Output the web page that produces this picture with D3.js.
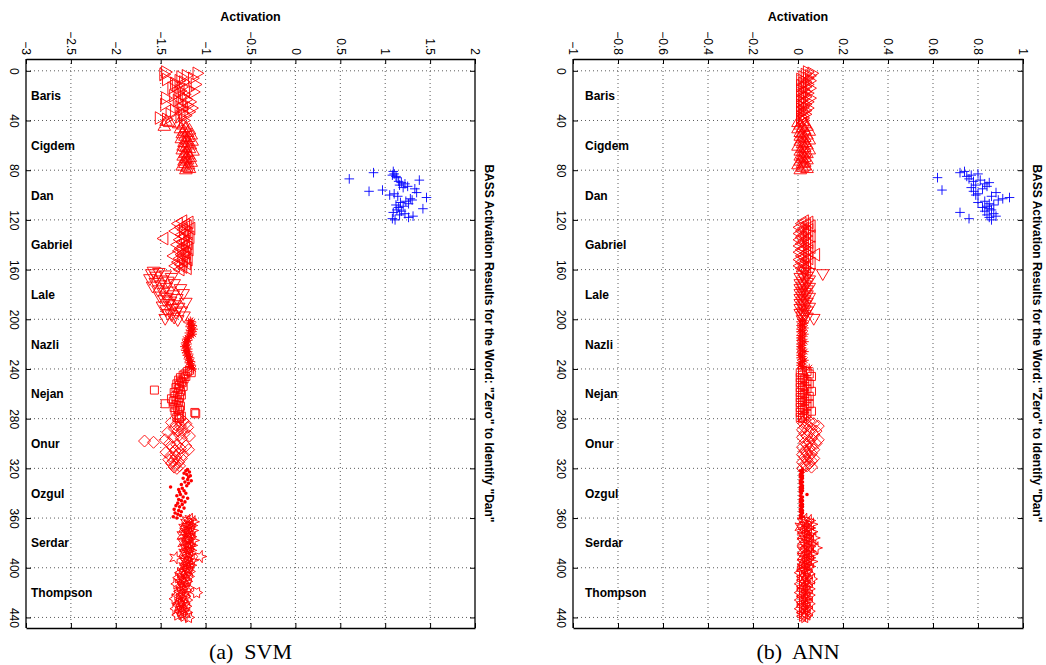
<!DOCTYPE html>
<html>
<head>
<meta charset="utf-8">
<script src="https://cdn.jsdelivr.net/npm/d3@7"></script>
<style>
  body { margin: 0; background: #fff; }
  svg { display: block; }
</style>
</head>
<body>
<svg id="fig" width="1046" height="665"></svg>
<script>
// ---------------------------------------------------------------
// Speakers (40 utterances each) and axis ticks
// ---------------------------------------------------------------
const speakers = ["Baris", "Cigdem", "Dan", "Gabriel", "Lale", "Nazli",
                  "Nejan", "Onur", "Ozgul", "Serdar", "Thompson"];
const sampleTicks = [0, 40, 80, 120, 160, 200, 240, 280, 320, 360, 400, 440];
const svmTicks = [-3, -2.5, -2, -1.5, -1, -0.5, 0, 0.5, 1, 1.5, 2];
const annTicks = [-1, -0.8, -0.6, -0.4, -0.2, 0, 0.2, 0.4, 0.6, 0.8, 1];

// ---------------------------------------------------------------
// SVM activations per speaker
// ---------------------------------------------------------------
const svmBaris = [-1.45, -1.10, -1.47, -1.22, -1.28, -1.15, -1.44, -1.30, -1.25, -1.35,
                  -1.12, -1.33, -1.27, -1.38, -1.20, -1.29, -1.14, -1.31, -1.24, -1.36,
                  -1.26, -1.45, -1.22, -1.32, -1.18, -1.28, -1.46, -1.21, -1.30, -1.16,
                  -1.27, -1.35, -1.19, -1.26, -1.40, -1.23, -1.29, -1.52, -1.44, -1.25];
const svmCigdem = [-1.44, -1.40, -1.30, -1.25, -1.46, -1.22, -1.28, -1.18, -1.24, -1.20,
                   -1.26, -1.16, -1.23, -1.19, -1.27, -1.21, -1.15, -1.24, -1.20, -1.17,
                   -1.25, -1.22, -1.18, -1.26, -1.14, -1.21, -1.23, -1.19, -1.25, -1.17,
                   -1.22, -1.20, -1.24, -1.16, -1.23, -1.19, -1.26, -1.21, -1.18, -1.22];
const svmDan = [1.09, 0.87, 1.10, 1.08, 1.12, 1.13, 0.60, 1.38, 1.15, 1.18,
                1.22, 1.16, 1.25, 1.20, 1.33, 0.97, 0.82, 1.35, 1.10, 1.05,
                1.14, 1.46, 1.28, 1.30, 1.23, 1.17, 1.26, 1.12, 1.20, 1.15,
                1.42, 1.13, 1.18, 1.09, 1.22, 1.16, 1.31, 1.26, 1.08, 1.11];
const svmGabriel = [-1.25, -1.18, -1.30, -1.22, -1.20, -1.27, -1.16, -1.24, -1.33, -1.21,
                    -1.19, -1.26, -1.23, -1.17, -1.46, -1.28, -1.22, -1.25, -1.19, -1.31,
                    -1.24, -1.20, -1.27, -1.18, -1.29, -1.23, -1.21, -1.26, -1.35, -1.22,
                    -1.28, -1.19, -1.24, -1.30, -1.21, -1.27, -1.33, -1.25, -1.20, -1.28];
const svmLale = [-1.58, -1.52, -1.60, -1.45, -1.55, -1.38, -1.62, -1.48, -1.42, -1.56,
                 -1.35, -1.50, -1.59, -1.44, -1.28, -1.53, -1.40, -1.47, -1.25, -1.36,
                 -1.51, -1.43, -1.32, -1.46, -1.39, -1.22, -1.41, -1.34, -1.48, -1.30,
                 -1.37, -1.44, -1.27, -1.33, -1.42, -1.38, -1.24, -1.35, -1.45, -1.31];
const svmNazli = [-1.17, -1.15, -1.19, -1.16, -1.14, -1.18, -1.16, -1.13, -1.17, -1.15,
                  -1.19, -1.14, -1.16, -1.18, -1.20, -1.22, -1.19, -1.21, -1.23, -1.20,
                  -1.22, -1.24, -1.21, -1.19, -1.23, -1.20, -1.22, -1.18, -1.21, -1.19,
                  -1.17, -1.20, -1.18, -1.16, -1.19, -1.17, -1.15, -1.18, -1.16, -1.14];
const svmNejan = [-1.18, -1.20, -1.16, -1.23, -1.25, -1.22, -1.28, -1.24, -1.30, -1.27,
                  -1.26, -1.32, -1.29, -1.25, -1.33, -1.30, -1.57, -1.28, -1.35, -1.31,
                  -1.27, -1.34, -1.29, -1.38, -1.32, -1.36, -1.30, -1.45, -1.33, -1.28,
                  -1.35, -1.31, -1.29, -1.34, -1.12, -1.11, -1.30, -1.27, -1.32, -1.29];
const svmOnur = [-1.30, -1.25, -1.38, -1.22, -1.33, -1.28, -1.20, -1.35, -1.26, -1.31,
                 -1.42, -1.24, -1.29, -1.18, -1.36, -1.27, -1.45, -1.68, -1.58, -1.40,
                 -1.32, -1.22, -1.37, -1.28, -1.19, -1.34, -1.44, -1.30, -1.25, -1.39,
                 -1.33, -1.27, -1.41, -1.36, -1.30, -1.38, -1.34, -1.29, -1.35, -1.32];
const svmOzgul = [-1.20, -1.22, -1.18, -1.24, -1.21, -1.17, -1.19, -1.25, -1.20, -1.16,
                  -1.23, -1.19, -1.27, -1.21, -1.39, -1.26, -1.30, -1.24, -1.29, -1.22,
                  -1.28, -1.32, -1.25, -1.20, -1.30, -1.27, -1.23, -1.31, -1.26, -1.33,
                  -1.29, -1.24, -1.35, -1.30, -1.27, -1.34, -1.31, -1.28, -1.36, -1.32];
const svmSerdar = [-1.17, -1.20, -1.14, -1.22, -1.18, -1.16, -1.21, -1.24, -1.19, -1.15,
                   -1.23, -1.18, -1.20, -1.26, -1.17, -1.21, -1.19, -1.14, -1.22, -1.25,
                   -1.18, -1.16, -1.20, -1.23, -1.19, -1.17, -1.21, -1.24, -1.18, -1.22,
                   -1.06, -1.34, -1.20, -1.15, -1.23, -1.19, -1.21, -1.17, -1.24, -1.20];
const svmThompson = [-1.20, -1.24, -1.18, -1.28, -1.22, -1.26, -1.19, -1.30, -1.23, -1.27,
                     -1.21, -1.25, -1.32, -1.24, -1.28, -1.20, -1.26, -1.22, -1.29, -1.10,
                     -1.25, -1.31, -1.23, -1.27, -1.34, -1.21, -1.26, -1.29, -1.24, -1.30,
                     -1.22, -1.27, -1.33, -1.25, -1.28, -1.21, -1.26, -1.31, -1.24, -1.19];

// ---------------------------------------------------------------
// ANN activations per speaker
// ---------------------------------------------------------------
const annBaris = [0.04, 0.06, 0.03, 0.05, 0.02, 0.04, 0.01, 0.05, 0.03, 0.02,
                  0.04, 0.01, 0.03, 0.05, 0.02, 0.01, 0.03, 0.04, 0.02, 0.01,
                  0.03, 0.05, 0.02, 0.01, 0.04, 0.02, 0.03, 0.01, 0.02, 0.04,
                  0.01, 0.03, 0.02, 0.01, 0.03, 0.02, 0.01, 0.02, 0.01, 0.02];
const annCigdem = [0.02, 0.00, 0.03, 0.01, 0.04, 0.02, 0.00, 0.03, 0.05, 0.01,
                   0.02, 0.04, 0.01, 0.03, 0.02, 0.05, 0.01, 0.03, 0.02, 0.04,
                   0.00, 0.03, 0.02, 0.05, 0.01, 0.03, 0.04, 0.02, 0.01, 0.03,
                   0.02, 0.04, 0.01, 0.03, 0.02, 0.00, 0.03, 0.02, 0.04, 0.01];
const annDan = [0.74, 0.72, 0.80, 0.77, 0.75, 0.62, 0.76, 0.81, 0.78, 0.85,
                0.83, 0.79, 0.84, 0.77, 0.82, 0.64, 0.78, 0.88, 0.80, 0.79,
                0.86, 0.94, 0.91, 0.89, 0.83, 0.80, 0.85, 0.87, 0.84, 0.82,
                0.85, 0.86, 0.83, 0.72, 0.87, 0.84, 0.88, 0.85, 0.76, 0.86];
const annGabriel = [0.03, 0.05, 0.02, 0.04, 0.06, 0.01, 0.03, 0.05, 0.02, 0.04,
                    0.01, 0.03, 0.06, 0.02, 0.04, 0.01, 0.03, 0.05, 0.02, 0.04,
                    0.01, 0.06, 0.03, 0.02, 0.05, 0.01, 0.04, 0.08, 0.02, 0.03,
                    0.05, 0.01, 0.04, 0.02, 0.06, 0.03, 0.01, 0.04, 0.02, 0.03];
const annLale = [0.03, 0.05, 0.11, 0.02, 0.04, 0.01, 0.03, 0.05, 0.02, 0.04,
                 0.01, 0.03, 0.02, 0.05, 0.01, 0.04, 0.02, 0.03, 0.01, 0.04,
                 0.02, 0.05, 0.01, 0.03, 0.02, 0.04, 0.01, 0.03, 0.02, 0.05,
                 0.01, 0.03, 0.04, 0.02, 0.01, 0.03, 0.02, 0.04, 0.07, 0.02];
const annNazli = [0.02, 0.01, 0.03, 0.02, 0.01, 0.02, 0.03, 0.01, 0.02, 0.01,
                  0.02, 0.03, 0.01, 0.02, 0.01, 0.02, 0.01, 0.03, 0.02, 0.01,
                  0.02, 0.01, 0.02, 0.01, 0.02, 0.03, 0.01, 0.02, 0.01, 0.02,
                  0.01, 0.02, 0.03, 0.02, 0.01, 0.02, 0.01, 0.02, 0.05, 0.02];
const annNejan = [0.02, 0.04, 0.01, 0.05, 0.02, 0.06, 0.01, 0.03, 0.02, 0.04,
                  0.01, 0.05, 0.02, 0.03, 0.01, 0.04, 0.02, 0.06, 0.01, 0.03,
                  0.02, 0.05, 0.01, 0.04, 0.02, 0.03, 0.01, 0.05, 0.02, 0.04,
                  0.01, 0.03, 0.02, 0.06, 0.01, 0.04, 0.02, 0.03, 0.01, 0.02];
const annOnur = [0.03, 0.05, 0.02, 0.07, 0.04, 0.09, 0.03, 0.06, 0.02, 0.08,
                 0.05, 0.03, 0.07, 0.04, 0.02, 0.06, 0.09, 0.05, 0.03, 0.08,
                 0.04, 0.06, 0.02, 0.05, 0.07, 0.03, 0.04, 0.06, 0.02, 0.05,
                 0.03, 0.07, 0.04, 0.06, 0.02, 0.05, 0.03, 0.04, 0.06, 0.02];
const annOzgul = [0.02, 0.01, 0.02, 0.015, 0.01, 0.02, 0.01, 0.02, 0.015, 0.01,
                  0.02, 0.01, 0.015, 0.02, 0.01, 0.02, 0.01, 0.02, 0.01, 0.015,
                  0.04, 0.01, 0.02, 0.015, 0.01, 0.02, 0.01, 0.015, 0.02, 0.01,
                  0.02, 0.015, 0.01, 0.02, 0.01, 0.02, 0.015, 0.01, 0.02, 0.01];
const annSerdar = [0.03, 0.05, 0.02, 0.04, 0.06, 0.03, 0.01, 0.05, 0.04, 0.02,
                   0.06, 0.03, 0.05, 0.02, 0.04, 0.07, 0.03, 0.05, 0.02, 0.04,
                   0.06, 0.03, 0.05, 0.08, 0.04, 0.02, 0.05, 0.03, 0.06, 0.04,
                   0.02, 0.05, 0.03, 0.04, 0.06, 0.02, 0.04, 0.03, 0.05, 0.02];
const annThompson = [0.03, 0.02, 0.04, 0.01, 0.05, 0.03, 0.02, 0.04, 0.06, 0.02,
                     0.03, 0.05, 0.01, 0.04, 0.02, 0.03, 0.05, 0.02, 0.04, 0.01,
                     0.03, 0.05, 0.02, 0.04, 0.03, 0.01, 0.04, 0.02, 0.05, 0.03,
                     0.02, 0.04, 0.01, 0.03, 0.05, 0.02, 0.03, 0.04, 0.02, 0.03];

const svmSeries = [svmBaris, svmCigdem, svmDan, svmGabriel, svmLale, svmNazli,
                   svmNejan, svmOnur, svmOzgul, svmSerdar, svmThompson];
const annSeries = [annBaris, annCigdem, annDan, annGabriel, annLale, annNazli,
                   annNejan, annOnur, annOzgul, annSerdar, annThompson];

// ---------------------------------------------------------------
// Marker shapes, one per speaker
// ---------------------------------------------------------------
const markerKind = ["triRight", "triUp", "plus", "triLeft", "triDown", "asterisk",
                    "square", "diamond", "dot", "pentagram", "hexagram"];
const target = "Dan";

function starPath(n, outer, inner) {
  const pts = [];
  for (let i = 0; i < 2 * n; i++) {
    const a = Math.PI * i / n;
    const r = i % 2 === 0 ? outer : inner;
    pts.push([r * Math.cos(a), r * Math.sin(a)]);
  }
  return "M" + pts.map(p => p[0].toFixed(2) + "," + p[1].toFixed(2)).join("L") + "Z";
}

function markerPath(kind) {
  switch (kind) {
    case "triRight": return "M-3.6,-6.3L7.2,0L-3.6,6.3Z";
    case "triLeft":  return "M3.6,-6.3L-7.2,0L3.6,6.3Z";
    case "triUp":    return "M-6.3,3.6L0,-7.2L6.3,3.6Z";
    case "triDown":  return "M-6.3,-3.6L0,7.2L6.3,-3.6Z";
    case "square":   return "M-4,-4H4V4H-4Z";
    case "diamond":  return "M0,-6L6,0L0,6L-6,0Z";
    case "plus":     return "M-4.8,0H4.8M0,-4.8V4.8";
    case "asterisk": return "M-4,0H4M0,-4V4M-2.9,-2.9L2.9,2.9M-2.9,2.9L2.9,-2.9";
    case "dot":      return d3.symbol(d3.symbolCircle, 10)();
    case "pentagram": return starPath(5, 6.5, 2.6);
    case "hexagram":  return starPath(6, 6, 3.4);
  }
}

// ---------------------------------------------------------------
// Layout shared by both panels
// ---------------------------------------------------------------
const svg = d3.select("#fig");
const plotTop = 59, plotBottom = 628;
const y = d3.scaleLinear().domain([-9.5, 448.5]).range([plotTop, plotBottom]);
const sansFont = "'Liberation Sans', Arial, Helvetica, sans-serif";
const serifFont = "'Liberation Serif', 'Times New Roman', serif";
const fmt = d3.format("");

function drawPanel(opts) {
  const { left, right, domain, ticks, series, caption, labelOffset } = opts;
  const x = d3.scaleLinear().domain(domain).range([left, right]);
  const g = svg.append("g");

  // dotted grid
  const grid = g.append("g")
    .attr("stroke", "#333").attr("stroke-width", 0.8)
    .attr("stroke-dasharray", "1,3");
  grid.selectAll("line.v").data(ticks.slice(1, -1)).join("line")
    .attr("class", "v")
    .attr("x1", d => x(d)).attr("x2", d => x(d))
    .attr("y1", plotTop).attr("y2", plotBottom);
  grid.selectAll("line.h").data(sampleTicks).join("line")
    .attr("class", "h")
    .attr("x1", left).attr("x2", right)
    .attr("y1", d => y(d)).attr("y2", d => y(d));

  // speaker markers
  series.forEach((vals, k) => {
    const kind = markerKind[k];
    const colour = speakers[k] === target ? "#0000ff" : "#ff0000";
    const path = markerPath(kind);
    g.append("g").selectAll("path").data(vals).join("path")
      .attr("transform", (v, j) => `translate(${x(v)},${y(k * 40 + j + 1)})`)
      .attr("d", path)
      .attr("fill", kind === "dot" ? colour : "none")
      .attr("stroke", kind === "dot" ? "none" : colour)
      .attr("stroke-width", 0.9);
  });

  // speaker names
  g.append("g").selectAll("text").data(speakers).join("text")
    .attr("x", left + labelOffset)
    .attr("y", (d, k) => y(k * 40 + 20) + 4.5)
    .attr("font-family", sansFont).attr("font-size", 12).attr("font-weight", "bold")
    .text(d => d);

  // axes on all four sides with inward ticks
  const styleAxis = sel => {
    sel.selectAll(".domain").attr("stroke", "#000").attr("stroke-width", 1.3);
    sel.selectAll(".tick line").attr("stroke", "#000").attr("stroke-width", 1);
    sel.selectAll("text").attr("fill", "#000")
      .attr("font-family", sansFont).attr("font-size", 12);
  };

  const top = g.append("g").attr("transform", `translate(0,${plotTop})`)
    .call(d3.axisTop(x).tickValues(ticks).tickSize(-5).tickSizeOuter(0).tickFormat(fmt))
    .call(styleAxis);
  top.selectAll("text")
    .attr("x", 0).attr("y", 0).attr("dy", 0)
    .attr("text-anchor", "end")
    .attr("transform", "translate(-4.3,-4) rotate(90)");

  g.append("g").attr("transform", `translate(0,${plotBottom})`)
    .call(d3.axisBottom(x).tickValues(ticks).tickSize(-5).tickSizeOuter(0).tickFormat(""))
    .call(styleAxis);

  const leftAx = g.append("g").attr("transform", `translate(${left},0)`)
    .call(d3.axisLeft(y).tickValues(sampleTicks).tickSize(-5).tickSizeOuter(0).tickFormat(fmt))
    .call(styleAxis);
  leftAx.selectAll(".domain").attr("d", `M0,${plotTop}V${plotBottom}`);
  leftAx.selectAll("text")
    .attr("x", 0).attr("y", 0).attr("dy", 0)
    .attr("text-anchor", "middle")
    .attr("transform", "translate(-16,0) rotate(90)");

  const rightAx = g.append("g").attr("transform", `translate(${right},0)`)
    .call(d3.axisRight(y).tickValues(sampleTicks).tickSize(-5).tickSizeOuter(0).tickFormat(""))
    .call(styleAxis);
  rightAx.selectAll(".domain").attr("d", `M0,${plotTop}V${plotBottom}`);

  // titles
  const cx = (left + right) / 2;
  g.append("text")
    .attr("x", cx).attr("y", 21).attr("text-anchor", "middle")
    .attr("font-family", sansFont).attr("font-size", 12.5).attr("font-weight", "bold")
    .text("Activation");

  g.append("text")
    .attr("transform", `translate(${right + 10},${(plotTop + plotBottom) / 2}) rotate(90)`)
    .attr("text-anchor", "middle")
    .attr("font-family", sansFont).attr("font-size", 12).attr("font-weight", "bold")
    .text("BASS Activation Results for the Word: \"Zero\" to Identify \"Dan\"");

  g.append("text")
    .attr("x", cx).attr("y", 659).attr("text-anchor", "middle")
    .attr("font-family", serifFont).attr("font-size", 22)
    .style("white-space", "pre")
    .text(caption);
}

drawPanel({ left: 26, right: 475, domain: [-3, 2], ticks: svmTicks,
            series: svmSeries, caption: "(a)  SVM", labelOffset: 5 });
drawPanel({ left: 573, right: 1023, domain: [-1, 1], ticks: annTicks,
            series: annSeries, caption: "(b)  ANN", labelOffset: 12 });
</script>
</body>
</html>
